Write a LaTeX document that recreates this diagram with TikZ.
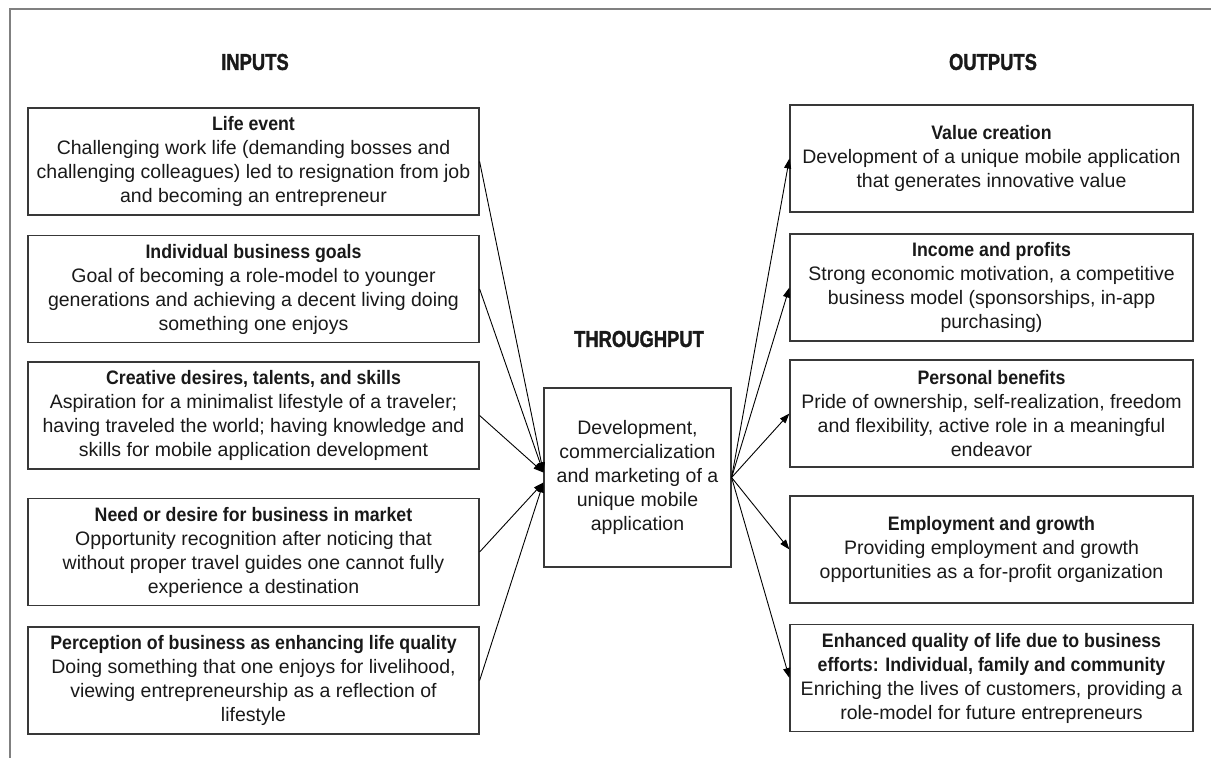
\documentclass[tikz,border=0pt]{standalone}
\usepackage{fontspec}
\setmainfont{Liberation Sans}
\newfontfamily\headfamily[BoldFeatures={FakeBold=1.6}]{Liberation Sans}
\usetikzlibrary{arrows.meta}
\newcommand{\boxtitle}[1]{\scalebox{0.91}[1]{\bfseries #1}}
\newcommand{\sectionhead}[1]{\scalebox{0.8}[1]{\headfamily\bfseries #1}}
\begin{document}
\begin{tikzpicture}[x=1pt,y=-1pt,
  every node/.style={inner sep=0pt, text=black!90},
  card/.style={draw=black!78, line width=1.2pt, align=center,
    font=\fontsize{19.5}{24}\selectfont},
  incard/.style={card, minimum width=451pt, minimum height=107pt},
  outcard/.style={card, minimum width=403pt, minimum height=107pt},
  head/.style={font=\fontsize{23}{26}\selectfont},
  conn/.style={draw=black, line width=0.9pt, -{Triangle[length=10pt,width=7pt]}},
  frame/.style={draw=black!50, line width=1.3pt}]
\useasboundingbox (0,0) rectangle (1211,758);

% page frame (top and left rules)
\draw[frame] (1211,9) -- (10,9) -- (10,758);

% column headings
\node[head] (hin)  at (255,62)  {\sectionhead{INPUTS}};
\node[head] (hthr) at (639,339) {\sectionhead{THROUGHPUT}};
\node[head] (hout) at (993,62)  {\sectionhead{OUTPUTS}};

% inputs
\node[incard] (in1) at (253.5,161.5) {\boxtitle{Life event}\\
  Challenging work life (demanding bosses and\\
  challenging colleagues) led to resignation from job\\
  and becoming an entrepreneur};
\node[incard] (in2) at (253.5,289) {\boxtitle{Individual business goals}\\
  Goal of becoming a role-model to younger\\
  generations and achieving a decent living doing\\
  something one enjoys};
\node[incard] (in3) at (253.5,415.5) {\boxtitle{Creative desires, talents, and skills}\\
  Aspiration for a minimalist lifestyle of a traveler;\\
  having traveled the world; having knowledge and\\
  skills for mobile application development};
\node[incard] (in4) at (253.5,552) {\boxtitle{Need or desire for business in market}\\
  Opportunity recognition after noticing that\\
  without proper travel guides one cannot fully\\
  experience a destination};
\node[incard] (in5) at (253.5,680.5) {\boxtitle{Perception of business as enhancing life quality}\\
  Doing something that one enjoys for livelihood,\\
  viewing entrepreneurship as a reflection of\\
  lifestyle};

% throughput
\node[card, minimum width=187pt, minimum height=179pt] (thr) at (637.5,477.5)
  {Development,\\ commercialization\\ and marketing of a\\ unique mobile\\ application};

% outputs
\node[outcard] (out1) at (991.5,158.5) {\boxtitle{Value creation}\\
  Development of a unique mobile application\\
  that generates innovative value};
\node[outcard] (out2) at (991.5,287.5) {\boxtitle{Income and profits}\\
  Strong economic motivation, a competitive\\
  business model (sponsorships, in-app\\
  purchasing)};
\node[outcard] (out3) at (991.5,413.5) {\boxtitle{Personal benefits}\\
  Pride of ownership, self-realization, freedom\\
  and flexibility, active role in a meaningful\\
  endeavor};
\node[outcard] (out4) at (991.5,549.5) {\boxtitle{Employment and growth}\\
  Providing employment and growth\\
  opportunities as a for-profit organization};
\node[outcard] (out5) at (991.5,678) {\boxtitle{Enhanced quality of life due to business}\\
  \boxtitle{efforts: Individual, family and community}\\
  Enriching the lives of customers, providing a\\
  role-model for future entrepreneurs};

% inputs feed the throughput
\draw[conn] (in1.east) -- ([yshift=5pt]thr.west);
\draw[conn] (in2.east) -- ([yshift=5pt]thr.west);
\draw[conn] (in3.east) -- ([yshift=5pt]thr.west);
\draw[conn] (in4.east) -- ([yshift=-5pt]thr.west);
\draw[conn] (in5.east) -- ([yshift=-5pt]thr.west);

% throughput yields the outputs
\foreach \k in {1,...,5}
  \draw[conn] (thr.east) -- (out\k.west);
\end{tikzpicture}
\end{document}
